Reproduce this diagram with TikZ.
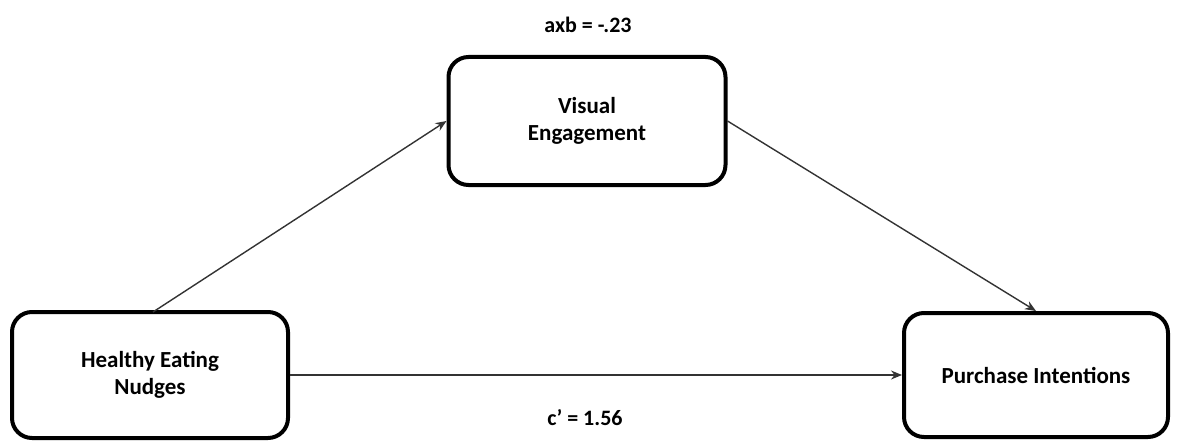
\documentclass[tikz,border=0pt]{standalone}
\usepackage{fontspec}
\setmainfont{Carlito}
\usetikzlibrary{arrows.meta}
\begin{document}
\begin{tikzpicture}[x=1pt,y=-1pt,
  box/.style={draw=black, line width=4pt, rounded corners=20pt, fill=white, align=center, font=\bfseries\fontsize{23}{27}\selectfont},
  conn/.style={draw=black!80, line width=1.4pt, -{Stealth[length=11pt,width=9pt]}},
  lbl/.style={font=\bfseries\fontsize{22}{26}\selectfont}]
\useasboundingbox (0,0) rectangle (1178,441);
\node[box, minimum width=276pt, minimum height=126pt] (hen) at (150,375) {Healthy Eating\\Nudges};
\node[box, minimum width=277pt, minimum height=128pt] (ve) at (587,121) {Visual\\Engagement};
\node[box, minimum width=264pt, minimum height=124pt] (pi) at (1036,375) {Purchase Intentions};
\node[lbl] (ab) at (588,25) {axb = -.23};
\node[lbl] (c) at (585,418) {c’ = 1.56};
\coordinate (s1) at (153,312);
\draw[conn] (s1) -- (ve.west);
\draw[conn] (ve.east) -- (pi.north);
\draw[conn] (hen.east) -- (pi.west);
\end{tikzpicture}
\end{document}
